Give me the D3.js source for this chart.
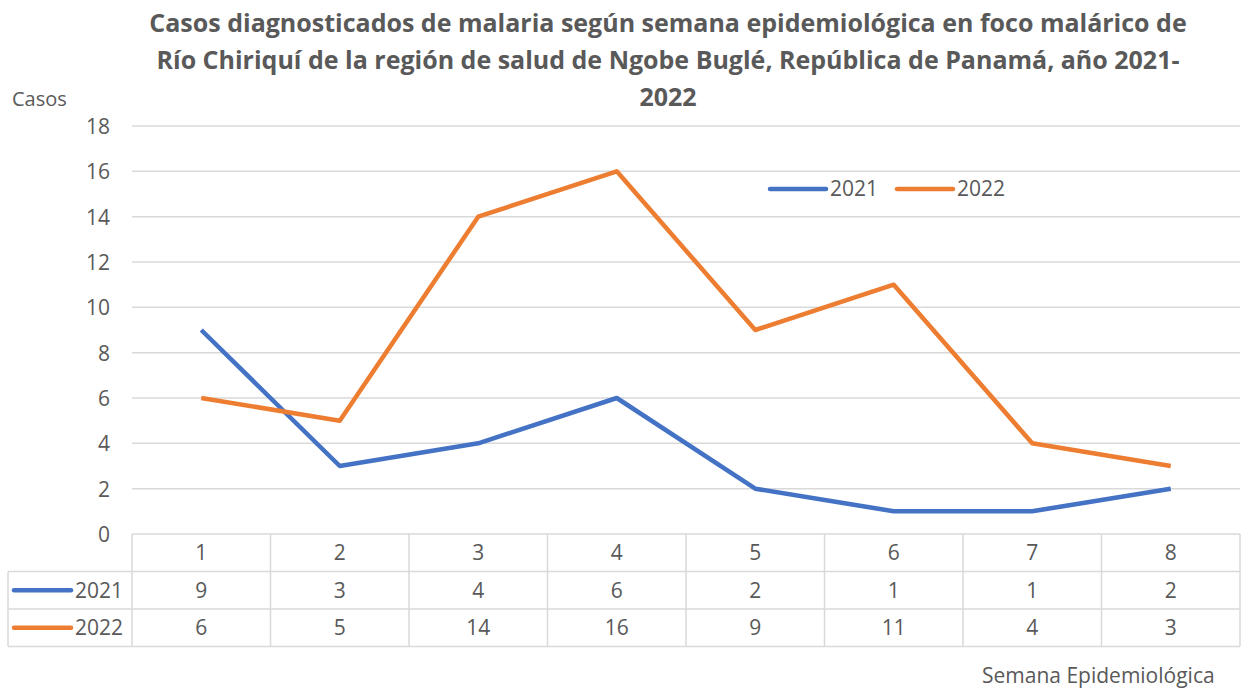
<!DOCTYPE html>
<html>
<head>
<meta charset="utf-8">
<script src="https://cdn.jsdelivr.net/npm/d3@7"></script>
<style>
  body { margin: 0; background: #fff; }
  text { font-family: "Open Sans", sans-serif; fill: #595959; }
</style>
</head>
<body>
<svg id="chart" width="1241" height="688"></svg>
<script>
const weeks = ["1", "2", "3", "4", "5", "6", "7", "8"];
const cases2021 = [9, 3, 4, 6, 2, 1, 1, 2];
const cases2022 = [6, 5, 14, 16, 9, 11, 4, 3];
const yTicks = [0, 2, 4, 6, 8, 10, 12, 14, 16, 18];
const titleLines = [
  "Casos diagnosticados de malaria según semana epidemiológica en foco malárico de",
  "Río Chiriquí de la región de salud de Ngobe Buglé, República de Panamá, año 2021-",
  "2022"
];

const series = [
  { name: "2021", values: cases2021, color: "#4472C4" },
  { name: "2022", values: cases2022, color: "#ED7D31" }
];

const margin = { top: 126, left: 132, right: 1240, bottom: 534 };
const svg = d3.select("#chart");

const x = d3.scaleBand().domain(weeks).range([margin.left, margin.right]);
const y = d3.scaleLinear().domain([0, 18]).range([margin.bottom, margin.top]);

// Title
svg.append("g")
  .selectAll("text")
  .data(titleLines)
  .join("text")
  .attr("x", 668)
  .attr("y", (d, i) => 32 + i * 37)
  .attr("text-anchor", "middle")
  .attr("font-size", "25px")
  .attr("font-weight", "bold")
  .text(d => d);

// Y axis label
svg.append("text")
  .attr("x", 12)
  .attr("y", 106)
  .attr("font-size", "20px")
  .text("Casos");

// Gridlines
svg.append("g")
  .selectAll("line")
  .data(yTicks.filter(d => d > 0))
  .join("line")
  .attr("x1", margin.left)
  .attr("x2", margin.right)
  .attr("y1", d => y(d))
  .attr("y2", d => y(d))
  .attr("stroke", "#d9d9d9")
  .attr("stroke-width", 1.5);

// Y axis
const yAxis = svg.append("g")
  .attr("transform", `translate(${margin.left - 22},0)`)
  .call(d3.axisLeft(y).tickValues(yTicks).tickSize(0).tickPadding(0));
yAxis.select(".domain").remove();
yAxis.selectAll("text")
  .attr("font-family", "'Open Sans', sans-serif")
  .attr("font-size", "21px")
  .attr("fill", "#595959")
  .attr("dy", "0.35em");

// Lines
const line = d3.line()
  .x((d, i) => x(weeks[i]) + x.bandwidth() / 2)
  .y(d => y(d));

svg.append("g")
  .selectAll("path")
  .data(series)
  .join("path")
  .attr("fill", "none")
  .attr("stroke", d => d.color)
  .attr("stroke-width", 4.5)
  .attr("stroke-linejoin", "round")
  .attr("d", d => line(d.values));

// Legend
const legend = svg.append("g").attr("transform", "translate(770,189)");
const legendItem = legend.selectAll("g")
  .data(series)
  .join("g")
  .attr("transform", (d, i) => `translate(${i * 127},0)`);
legendItem.append("line")
  .attr("x1", 0).attr("x2", 56)
  .attr("stroke", d => d.color)
  .attr("stroke-width", 4.5)
  .attr("stroke-linecap", "round");
legendItem.append("text")
  .attr("x", 60)
  .attr("dy", "0.35em")
  .attr("font-size", "21px")
  .text(d => d.name);

// Data table
const rowH = 37.5;
const table = svg.append("g");
const gridColor = "#d9d9d9";

// header row + week labels
table.selectAll(".hdr")
  .data(weeks)
  .join("text")
  .attr("x", d => x(d) + x.bandwidth() / 2)
  .attr("y", margin.bottom + rowH / 2)
  .attr("dy", "0.35em")
  .attr("text-anchor", "middle")
  .attr("font-size", "21px")
  .text(d => d);

series.forEach((s, r) => {
  const cy = margin.bottom + rowH * (r + 1) + rowH / 2;
  table.append("g")
    .selectAll("text")
    .data(s.values)
    .join("text")
    .attr("x", (d, i) => x(weeks[i]) + x.bandwidth() / 2)
    .attr("y", cy)
    .attr("dy", "0.35em")
    .attr("text-anchor", "middle")
    .attr("font-size", "21px")
    .text(d => d);
  table.append("line")
    .attr("x1", 14).attr("x2", 71)
    .attr("y1", cy).attr("y2", cy)
    .attr("stroke", s.color)
    .attr("stroke-width", 4.5)
    .attr("stroke-linecap", "round");
  table.append("text")
    .attr("x", 75)
    .attr("y", cy)
    .attr("dy", "0.35em")
    .attr("font-size", "21px")
    .text(s.name);
});

// table grid lines
const hLines = [
  { y: margin.bottom, x1: margin.left },
  { y: margin.bottom + rowH, x1: 8 },
  { y: margin.bottom + rowH * 2, x1: 8 },
  { y: margin.bottom + rowH * 3, x1: 8 }
];
table.selectAll(".hl")
  .data(hLines)
  .join("line")
  .attr("x1", d => d.x1)
  .attr("x2", margin.right)
  .attr("y1", d => d.y)
  .attr("y2", d => d.y)
  .attr("stroke", gridColor)
  .attr("stroke-width", 1.5);

const vLines = weeks.map(w => x(w)).concat([margin.right]);
table.selectAll(".vl")
  .data(vLines)
  .join("line")
  .attr("x1", d => d)
  .attr("x2", d => d)
  .attr("y1", margin.bottom)
  .attr("y2", margin.bottom + rowH * 3)
  .attr("stroke", gridColor)
  .attr("stroke-width", 1.5);
table.append("line")
  .attr("x1", 8).attr("x2", 8)
  .attr("y1", margin.bottom + rowH)
  .attr("y2", margin.bottom + rowH * 3)
  .attr("stroke", gridColor)
  .attr("stroke-width", 1.5);

// X axis label
svg.append("text")
  .attr("x", 982)
  .attr("y", 683)
  .attr("font-size", "21px")
  .text("Semana Epidemiológica");
</script>
</body>
</html>
